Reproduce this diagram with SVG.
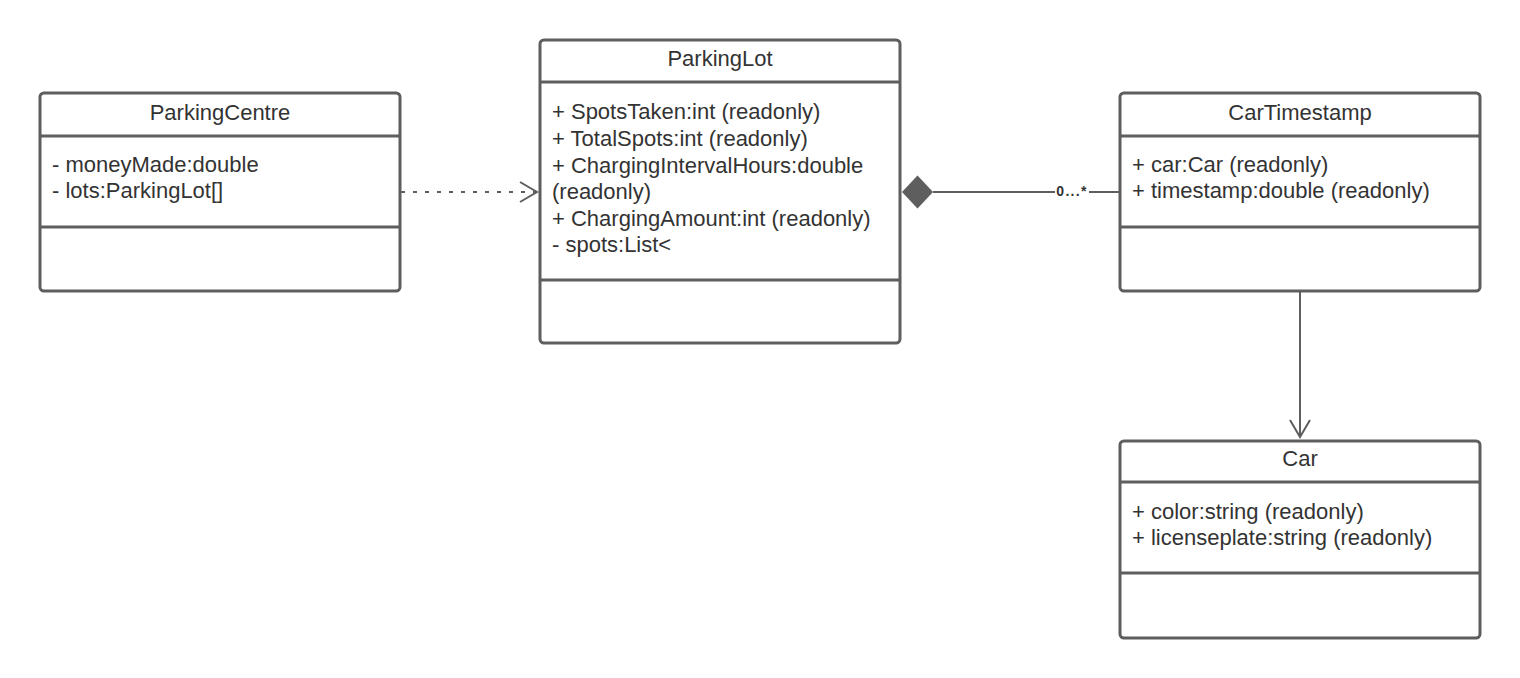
<svg xmlns="http://www.w3.org/2000/svg" width="1520" height="678" viewBox="0 0 1520 678">
<defs>
<style>
.box{fill:#ffffff;stroke:#5e5e5e;stroke-width:3}
.div{stroke:#5e5e5e;stroke-width:3}
.t{font-family:"Liberation Sans",Arial,sans-serif;font-size:22px;fill:#333333}
.title{text-anchor:middle}
.conn{stroke:#5e5e5e;stroke-width:2;fill:none}
.lbl{font-family:"Liberation Sans",Arial,sans-serif;font-size:14px;font-weight:bold;fill:#333333;text-anchor:middle;letter-spacing:1.3px}
</style>
<marker id="open" markerWidth="24" markerHeight="24" viewBox="0 0 24 24" refX="20" refY="12" orient="auto" markerUnits="userSpaceOnUse">
<path d="M3,2 L20,12 L3,22" fill="none" stroke="#5e5e5e" stroke-width="2"/>
</marker>
</defs>
<rect width="1520" height="678" fill="#ffffff"/>
<g id="connectors">
<line class="conn" x1="401" y1="192" x2="537" y2="192" stroke-dasharray="4 8" marker-end="url(#open)"/>
<line class="conn" x1="933" y1="192" x2="1055" y2="192"/>
<line class="conn" x1="1089" y1="192" x2="1120" y2="192"/>
<polygon points="902,192 917.5,175.5 933,192 917.5,208.5" fill="#5e5e5e"/>
<text class="lbl" x="1072" y="196">0...*</text>
<line class="conn" x1="1300" y1="292" x2="1300" y2="437" marker-end="url(#open)"/>
</g>
<g id="ParkingCentre">
<rect class="box" x="40" y="93" width="360" height="198" rx="4"/>
<line class="div" x1="40" y1="136" x2="400" y2="136"/>
<line class="div" x1="40" y1="227" x2="400" y2="227"/>
<text class="t title" x="220" y="120">ParkingCentre</text>
<text class="t" x="52" y="172">- moneyMade:double</text>
<text class="t" x="52" y="198">- lots:ParkingLot[]</text>
</g>
<g id="ParkingLot">
<rect class="box" x="540" y="40" width="360" height="303" rx="4"/>
<line class="div" x1="540" y1="82" x2="900" y2="82"/>
<line class="div" x1="540" y1="280" x2="900" y2="280"/>
<text class="t title" x="720" y="66">ParkingLot</text>
<text class="t" x="552" y="119">+ SpotsTaken:int (readonly)</text>
<text class="t" x="552" y="146">+ TotalSpots:int (readonly)</text>
<text class="t" x="552" y="172.5">+ ChargingIntervalHours:double</text>
<text class="t" x="552" y="199">(readonly)</text>
<text class="t" x="552" y="226">+ ChargingAmount:int (readonly)</text>
<text class="t" x="552" y="252">- spots:List&lt;</text>
</g>
<g id="CarTimestamp">
<rect class="box" x="1120" y="93" width="360" height="198" rx="4"/>
<line class="div" x1="1120" y1="136" x2="1480" y2="136"/>
<line class="div" x1="1120" y1="227" x2="1480" y2="227"/>
<text class="t title" x="1300" y="120">CarTimestamp</text>
<text class="t" x="1132" y="172">+ car:Car (readonly)</text>
<text class="t" x="1132" y="198">+ timestamp:double (readonly)</text>
</g>
<g id="Car">
<rect class="box" x="1120" y="441" width="360" height="197" rx="4"/>
<line class="div" x1="1120" y1="482" x2="1480" y2="482"/>
<line class="div" x1="1120" y1="573" x2="1480" y2="573"/>
<text class="t title" x="1300" y="466">Car</text>
<text class="t" x="1132" y="519">+ color:string (readonly)</text>
<text class="t" x="1132" y="545">+ licenseplate:string (readonly)</text>
</g>
</svg>
